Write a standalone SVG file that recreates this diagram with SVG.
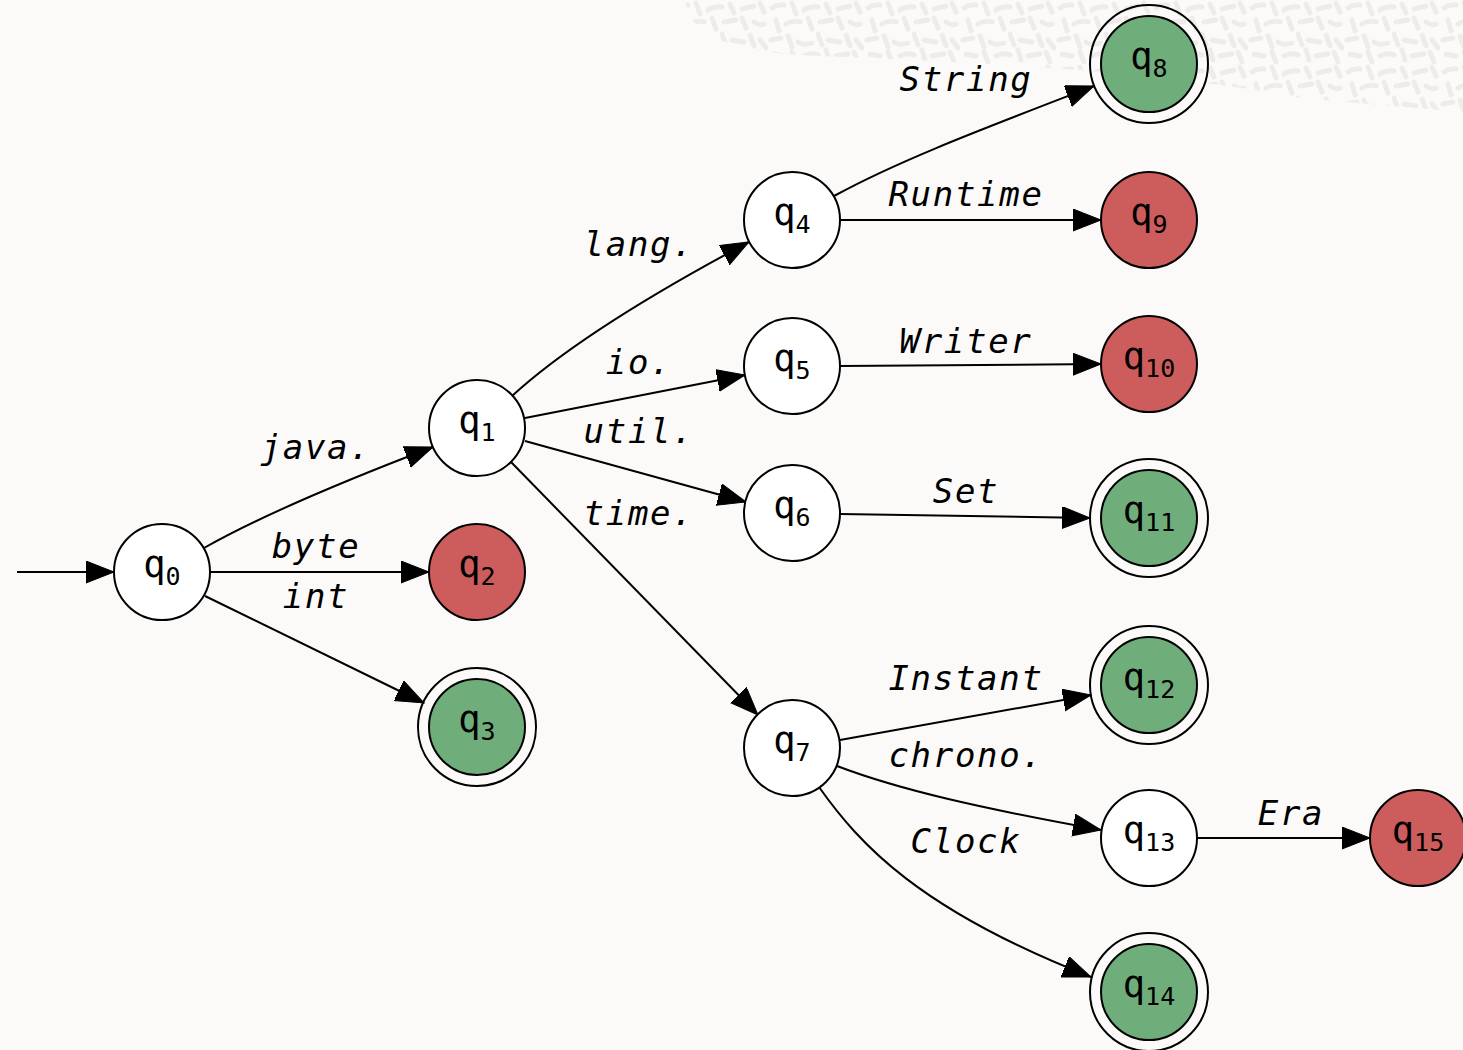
<svg xmlns="http://www.w3.org/2000/svg" width="1463" height="1050" viewBox="0 0 1463 1050">
<style>
.bg{fill:#fbfaf8}
.n{fill:#ffffff;stroke:#000;stroke-width:2}
.red{fill:#cd5c5c;stroke:#000;stroke-width:2}
.green{fill:#6fae7a;stroke:#000;stroke-width:2}
.ring{fill:none;stroke:#000;stroke-width:2}
.lbl{font-family:"DejaVu Sans Mono",monospace;font-size:37px;fill:#000;text-anchor:middle}
.sub{font-size:25px}
.e{fill:none;stroke:#000;stroke-width:2;marker-end:url(#arr)}
.el{font-family:"DejaVu Sans Mono",monospace;font-style:italic;font-size:34px;letter-spacing:1.7px;fill:#000;text-anchor:middle}
.tex{stroke:#edeceb;stroke-width:5;stroke-linecap:round;fill:none}
</style>
<defs>
<marker id="arr" markerUnits="userSpaceOnUse" markerWidth="30" markerHeight="24" refX="28" refY="11" orient="auto">
<path d="M0,0 L28,11 L0,22 Z" fill="#000" stroke="#000" stroke-width="1"/>
</marker>
<pattern id="texp" patternUnits="userSpaceOnUse" width="96" height="64">
<path class="tex" d="M4,8 Q10,4 16,5 M24,3 L28,14 M36,10 Q42,6 50,7 M58,4 L62,13 M70,9 L82,6 M88,3 L92,12 M8,20 L11,31 M18,24 Q24,20 32,22 M40,18 L44,29 M52,22 L64,20 M70,18 L74,28 M82,22 Q88,26 92,24 M3,40 L13,38 M20,36 L24,47 M30,42 Q36,46 44,43 M50,34 L54,45 M60,40 L72,42 M78,35 L82,46 M88,40 L94,48 M6,54 L16,56 M24,52 L28,62 M36,56 Q44,52 50,55 M58,50 L61,60 M68,56 L80,54 M86,52 L90,62"/>
</pattern>
<clipPath id="blob">
<path d="M685,0 C688,30 720,50 800,55 C950,62 1150,68 1300,98 L1463,112 L1463,0 Z"/>
</clipPath>
</defs>
<rect class="bg" x="0" y="0" width="1463" height="1050"/>
<rect x="680" y="0" width="783" height="115" fill="url(#texp)" clip-path="url(#blob)"/>
<g id="edges">
<path class="e" d="M17,572 L114,572"/>
<path class="e" d="M204,548 C250,522 320,490 433,447"/>
<text class="el" x="316" y="459">java.</text>
<path class="e" d="M210,572 L429,572"/>
<text class="el" x="316" y="558">byte</text>
<path class="e" d="M205,596 L424,703"/>
<text class="el" x="316" y="608">int</text>
<path class="e" d="M512,396 C560,352 640,300 749,242"/>
<text class="el" x="639" y="256">lang.</text>
<path class="e" d="M525,418 L745,375"/>
<text class="el" x="639" y="374">io.</text>
<path class="e" d="M525,441 L746,502"/>
<text class="el" x="639" y="443">util.</text>
<path class="e" d="M511,462 L758,715"/>
<text class="el" x="639" y="525">time.</text>
<path class="e" d="M834,196 C900,160 980,130 1094,86"/>
<text class="el" x="966" y="91">String</text>
<path class="e" d="M840,220 L1101,220"/>
<text class="el" x="966" y="206">Runtime</text>
<path class="e" d="M840,366 L1101,364"/>
<text class="el" x="966" y="353">Writer</text>
<path class="e" d="M840,514 L1090,518"/>
<text class="el" x="966" y="503">Set</text>
<path class="e" d="M840,740 L1091,695"/>
<text class="el" x="966" y="690">Instant</text>
<path class="e" d="M837,766 C900,790 980,808 1101,830"/>
<text class="el" x="966" y="767">chrono.</text>
<path class="e" d="M819,787 C860,845 920,910 1091,977"/>
<text class="el" x="966" y="853">Clock</text>
<path class="e" d="M1197,838 L1370,838"/>
<text class="el" x="1291" y="825">Era</text>
</g>
<g id="q0"><circle class="n" cx="162" cy="572" r="48"/><text class="lbl" x="162" y="577">q<tspan class="sub" dy="8">0</tspan></text></g>
<g id="q1"><circle class="n" cx="477" cy="428" r="48"/><text class="lbl" x="477" y="433">q<tspan class="sub" dy="8">1</tspan></text></g>
<g id="q2"><circle class="red" cx="477" cy="572" r="48"/><text class="lbl" x="477" y="577">q<tspan class="sub" dy="8">2</tspan></text></g>
<g id="q3"><circle class="ring" cx="477" cy="727" r="59"/><circle class="green" cx="477" cy="727" r="48"/><text class="lbl" x="477" y="732">q<tspan class="sub" dy="8">3</tspan></text></g>
<g id="q4"><circle class="n" cx="792" cy="220" r="48"/><text class="lbl" x="792" y="225">q<tspan class="sub" dy="8">4</tspan></text></g>
<g id="q5"><circle class="n" cx="792" cy="366" r="48"/><text class="lbl" x="792" y="371">q<tspan class="sub" dy="8">5</tspan></text></g>
<g id="q6"><circle class="n" cx="792" cy="513" r="48"/><text class="lbl" x="792" y="518">q<tspan class="sub" dy="8">6</tspan></text></g>
<g id="q7"><circle class="n" cx="792" cy="748" r="48"/><text class="lbl" x="792" y="753">q<tspan class="sub" dy="8">7</tspan></text></g>
<g id="q8"><circle class="ring" cx="1149" cy="64" r="59"/><circle class="green" cx="1149" cy="64" r="48"/><text class="lbl" x="1149" y="69">q<tspan class="sub" dy="8">8</tspan></text></g>
<g id="q9"><circle class="red" cx="1149" cy="220" r="48"/><text class="lbl" x="1149" y="225">q<tspan class="sub" dy="8">9</tspan></text></g>
<g id="q10"><circle class="red" cx="1149" cy="364" r="48"/><text class="lbl" x="1149" y="369">q<tspan class="sub" dy="8">10</tspan></text></g>
<g id="q11"><circle class="ring" cx="1149" cy="518" r="59"/><circle class="green" cx="1149" cy="518" r="48"/><text class="lbl" x="1149" y="523">q<tspan class="sub" dy="8">11</tspan></text></g>
<g id="q12"><circle class="ring" cx="1149" cy="685" r="59"/><circle class="green" cx="1149" cy="685" r="48"/><text class="lbl" x="1149" y="690">q<tspan class="sub" dy="8">12</tspan></text></g>
<g id="q13"><circle class="n" cx="1149" cy="838" r="48"/><text class="lbl" x="1149" y="843">q<tspan class="sub" dy="8">13</tspan></text></g>
<g id="q14"><circle class="ring" cx="1149" cy="992" r="59"/><circle class="green" cx="1149" cy="992" r="48"/><text class="lbl" x="1149" y="997">q<tspan class="sub" dy="8">14</tspan></text></g>
<g id="q15"><circle class="red" cx="1418" cy="838" r="48"/><text class="lbl" x="1418" y="843">q<tspan class="sub" dy="8">15</tspan></text></g>
</svg>
